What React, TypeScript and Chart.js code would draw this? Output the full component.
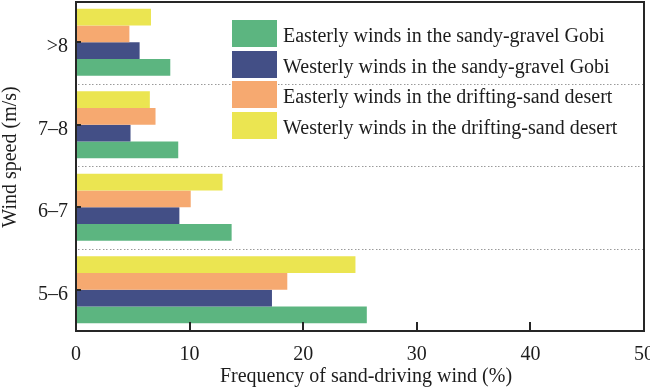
import React, { useEffect, useRef } from "react";
import { Chart, registerables } from "chart.js";

Chart.register(...registerables);

const categories = ["5–6", "6–7", "7–8", ">8"];
const easterlyGobi = [25.6, 13.7, 9.0, 8.3];
const westerlyGobi = [17.25, 9.1, 4.8, 5.6];
const easterlySand = [18.6, 10.1, 7.0, 4.7];
const westerlySand = [24.6, 12.9, 6.5, 6.6];
const xTicks = [0, 10, 20, 30, 40, 50];
const xTitle = "Frequency of sand-driving wind (%)";
const yTitle = "Wind speed (m/s)";

const seriesLabels = [
  "Easterly winds in the sandy-gravel Gobi",
  "Westerly winds in the sandy-gravel Gobi",
  "Easterly winds in the drifting-sand desert",
  "Westerly winds in the drifting-sand desert",
];
const seriesColors = ["#5cb580", "#434f86", "#f6a970", "#ebe551"];

const FONT = "'Liberation Serif', 'Times New Roman', serif";
const TEXT = "#1c1c1c";
const LINE = "#262626";

const gridPlugin = {
  id: "separators",
  beforeDatasetsDraw(chart: any) {
    const { ctx, chartArea } = chart;
    const ys = chart.scales.y;
    ctx.save();
    ctx.fillStyle = "#9a9a9a";
    for (let i = 0; i < categories.length - 1; i++) {
      const py = Math.round((ys.getPixelForValue(i) + ys.getPixelForValue(i + 1)) / 2);
      for (let x = chartArea.left + 2; x < chartArea.right - 1; x += 3.5) {
        ctx.fillRect(Math.round(x), py, 1.5, 1);
      }
    }
    ctx.restore();
  },
};

const framePlugin = {
  id: "frameAndTicks",
  afterDraw(chart: any) {
    const ctx = chart.ctx;
    const area = chart.chartArea;
    const xs = chart.scales.x;
    const ys = chart.scales.y;
    const L = Math.round(area.left);
    const R = Math.round(area.right);
    const T = Math.round(area.top);
    const B = Math.round(area.bottom);
    ctx.save();
    ctx.fillStyle = LINE;
    ctx.fillRect(L - 1, T, R - L + 2, 2);
    ctx.fillRect(L - 1, B - 1, R - L + 2, 2);
    ctx.fillRect(L - 1, T, 2, B - T + 1);
    ctx.fillRect(R - 1, T, 2, B - T + 1);
    xTicks.forEach((v) => {
      const px = Math.round(xs.getPixelForValue(v));
      ctx.fillRect(px - 1, B - 9, 2, 9);
    });
    categories.forEach((_, i) => {
      const py = Math.round(ys.getPixelForValue(i));
      ctx.fillRect(L, py - 1, 5, 2);
    });
    ctx.font = `20px ${FONT}`;
    ctx.fillStyle = TEXT;
    ctx.textBaseline = "alphabetic";
    ctx.textAlign = "center";
    xTicks.forEach((v) => {
      ctx.fillText(String(v), xs.getPixelForValue(v), B + 28.5);
    });
    ctx.textAlign = "right";
    categories.forEach((c, i) => {
      ctx.fillText(c, L - 8, ys.getPixelForValue(i) + 10);
    });
    ctx.textAlign = "center";
    ctx.fillText(xTitle, (L + R) / 2 + 6, 382);
    ctx.save();
    ctx.translate(16, 157);
    ctx.rotate(-Math.PI / 2);
    ctx.fillText(yTitle, 0, 0);
    ctx.restore();
    const lx = L + 156;
    const ly = T + 19;
    ctx.textAlign = "left";
    seriesLabels.forEach((lab, i) => {
      const y = Math.round(ly + i * 30.6);
      ctx.fillStyle = seriesColors[i];
      ctx.fillRect(lx, y, 45, 27);
      ctx.fillStyle = TEXT;
      ctx.fillText(lab, lx + 51, y + 21.5);
    });
    ctx.restore();
  },
};

export default function App() {
  const ref = useRef<HTMLCanvasElement>(null);
  useEffect(() => {
    document.body.style.margin = "0";
    const datasets = [
      { label: seriesLabels[3], data: westerlySand, backgroundColor: seriesColors[3] },
      { label: seriesLabels[2], data: easterlySand, backgroundColor: seriesColors[2] },
      { label: seriesLabels[1], data: westerlyGobi, backgroundColor: seriesColors[1] },
      { label: seriesLabels[0], data: easterlyGobi, backgroundColor: seriesColors[0] },
    ];
    const chart = new Chart(ref.current!, {
      type: "bar",
      data: { labels: categories, datasets },
      options: {
        indexAxis: "y",
        animation: false,
        responsive: false,
        maintainAspectRatio: false,
        layout: { padding: { top: 1, right: 6, left: 76, bottom: 61 } },
        datasets: { bar: { categoryPercentage: 0.81, barPercentage: 1.0, borderWidth: 0 } },
        plugins: { legend: { display: false }, tooltip: { enabled: false } },
        scales: {
          x: { display: false, min: 0, max: 50 },
          y: { display: false, reverse: true },
        },
      } as any,
      plugins: [gridPlugin, framePlugin],
    });
    return () => chart.destroy();
  }, []);
  return (
    <div style={{ width: 650, height: 392 }}>
      <canvas ref={ref} width={650} height={392} style={{ display: "block" }} />
    </div>
  );
}
